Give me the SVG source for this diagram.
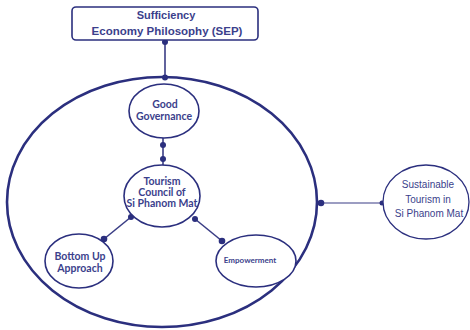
<svg xmlns="http://www.w3.org/2000/svg" width="470" height="330" viewBox="0 0 470 330">
<style>
.nd{fill:#fff;stroke:#2b2f7e;stroke-width:1.6}
.big{fill:none;stroke:#2b2f7e;stroke-width:2.6}
.ln{stroke:#3a3d85;stroke-width:1.6;fill:none}
.dot{fill:#2b2f7e}
.t{font-family:Lato,"Open Sans",sans-serif;font-weight:bold;fill:#3b3f8c;text-anchor:middle}
.a{font-family:"Liberation Sans",Arial,sans-serif;fill:#3b3f8c;text-anchor:middle}
</style>
<rect width="470" height="330" fill="#fff"/>
<g id="connectors">
<line class="ln" x1="165" y1="41" x2="165" y2="78"/>
<circle class="dot" cx="165" cy="42" r="3"/>
<circle class="dot" cx="165" cy="77.5" r="3"/>
<line class="ln" x1="163" y1="138" x2="163" y2="166"/>
<circle class="dot" cx="163" cy="145" r="3"/>
<circle class="dot" cx="163" cy="159" r="3"/>
<line class="ln" x1="131" y1="217" x2="104" y2="239"/>
<circle class="dot" cx="131" cy="217" r="3"/>
<circle class="dot" cx="104" cy="239" r="3.3"/>
<line class="ln" x1="195" y1="219" x2="222" y2="241"/>
<circle class="dot" cx="195" cy="219" r="3"/>
<circle class="dot" cx="222" cy="241" r="3.3"/>
<line class="ln" x1="320" y1="203" x2="383" y2="203" style="stroke-width:1.2"/>
<circle class="dot" cx="321" cy="203" r="3.3"/>
<circle class="dot" cx="382" cy="203" r="2.5"/>
</g>
<g id="sep">
<rect class="nd" x="72" y="7" width="186" height="33" rx="4"/>
<text class="a" x="166" y="19" font-size="11" font-weight="bold">Sufficiency</text>
<text class="a" x="167" y="35" font-size="11.5" font-weight="bold">Economy Philosophy (SEP)</text>
</g>
<g id="scope">
<ellipse class="big" cx="162" cy="202" rx="155" ry="125"/>
</g>
<g id="good-governance">
<ellipse class="nd" cx="164" cy="111" rx="35" ry="27"/>
<text class="t" x="165" y="108" font-size="10.5">Good</text>
<text class="t" x="164" y="120" font-size="10.5">Governance</text>
</g>
<g id="tourism-council">
<ellipse class="nd" cx="162" cy="196" rx="38" ry="31"/>
<text class="t" x="162" y="185" font-size="10.5">Tourism</text>
<text class="t" x="162" y="196" font-size="10.5">Council of</text>
<text class="t" x="162" y="207" font-size="10.5">Si Phanom Mat</text>
</g>
<g id="bottom-up">
<ellipse class="nd" cx="79" cy="261" rx="34" ry="27"/>
<text class="t" x="80" y="260" font-size="10.5">Bottom Up</text>
<text class="t" x="80" y="272" font-size="10.5">Approach</text>
</g>
<g id="empowerment">
<ellipse class="nd" cx="256" cy="261" rx="40" ry="26"/>
<text class="t" x="250" y="263" font-size="8">Empowerment</text>
</g>
<g id="sustainable">
<ellipse class="nd" cx="426" cy="202" rx="43" ry="37" style="stroke-width:1.3"/>
<text class="a" x="428" y="188" font-size="10">Sustainable</text>
<text class="a" x="428" y="203" font-size="10">Tourism in</text>
<text class="a" x="429" y="217" font-size="10">Si Phanom Mat</text>
</g>
</svg>
